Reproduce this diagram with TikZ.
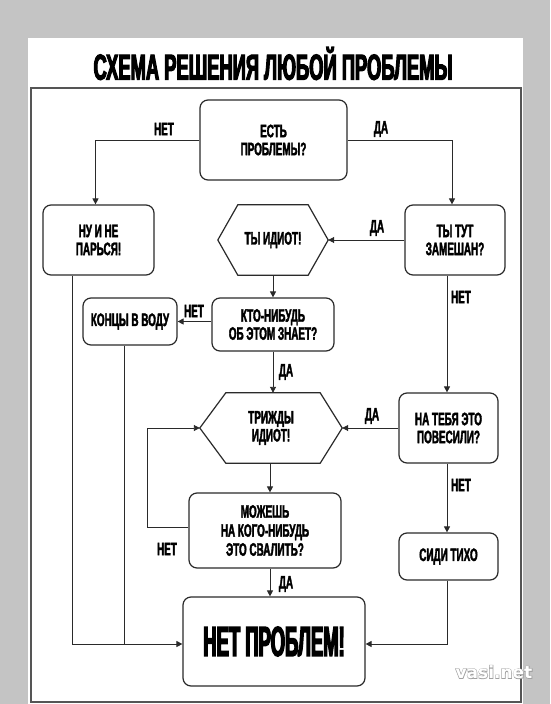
\documentclass[tikz,border=0pt]{standalone}
\usepackage{fontspec}
\usetikzlibrary{arrows.meta,calc}
\newfontfamily\nfam{Liberation Sans Bold}[FakeStretch=0.55, FakeBold=2]
\newfontfamily\tfam{Liberation Sans Bold}[FakeStretch=0.51, FakeBold=3]
\newfontfamily\bfam{Liberation Sans Bold}[FakeStretch=0.44, FakeBold=3]
\newfontfamily\wmfam{DejaVu Sans Bold}
\newfontfamily\wmhalo{DejaVu Sans Bold}[FakeBold=7]
\definecolor{bggray}{HTML}{C4C4C4}
\definecolor{ink}{HTML}{2A2A2A}
\definecolor{wmgray}{HTML}{A0A0A0}
\newcommand{\nodetext}{\nfam\fontsize{18}{18}\selectfont}
\tikzset{
  box/.style={draw=ink, line width=1.2pt, rounded corners=8pt, inner sep=0pt,
    align=center, font=\nodetext, text=black},
  hexbox/.style={inner sep=0pt, align=center, font=\nodetext, text=black},
  hexline/.style={draw=ink, line width=1.2pt},
  conn/.style={draw=ink, line width=0.9pt},
  arr/.style={conn, -{Triangle[length=6pt,width=6pt]}},
  lab/.style={font=\nodetext, inner sep=0pt, text=black}
}
\begin{document}
\begin{tikzpicture}[x=1pt,y=-1pt]
\useasboundingbox (0,0) rectangle (550,704);
\fill[bggray] (0,0) rectangle (550,704);
\fill[white] (28,38) rectangle (523,704);
\draw[draw=ink!80, line width=1.2pt] (31,88) rectangle (521,702);

\node[font={\tfam\fontsize{36}{38}\selectfont}, inner sep=0pt] (title) at (273,63.5) {СХЕМА РЕШЕНИЯ ЛЮБОЙ ПРОБЛЕМЫ};

% nodes
\node[box, minimum width=147pt, minimum height=80pt] (est) at (273.5,140) {ЕСТЬ\\ПРОБЛЕМЫ?};
\node[box, minimum width=111pt, minimum height=70pt] (nu) at (98.5,240) {НУ И НЕ\\ПАРЬСЯ!};
\node[hexbox, minimum width=110pt, minimum height=70pt] (idiot) at (273,240) {ТЫ ИДИОТ!};
\node[box, minimum width=100pt, minimum height=70pt] (zam) at (455,240) {ТЫ ТУТ\\ЗАМЕШАН?};
\node[box, minimum width=122pt, minimum height=53pt] (kto) at (273,324.5) {КТО-НИБУДЬ\\ОБ ЭТОМ ЗНАЕТ?};
\node[box, minimum width=94pt, minimum height=47pt] (konc) at (130,321.5) {КОНЦЫ В ВОДУ};
\node[hexbox, minimum width=142pt, minimum height=70pt] (trizh) at (271,428) {ТРИЖДЫ\\ИДИОТ!};
\node[box, minimum width=99pt, minimum height=70pt] (pov) at (448.5,428) {НА ТЕБЯ ЭТО\\ПОВЕСИЛИ?};
\node[box, minimum width=152pt, minimum height=75pt, font={\nfam\fontsize{18}{19}\selectfont}] (mozh) at (265,530.5) {МОЖЕШЬ\\НА КОГО-НИБУДЬ\\ЭТО СВАЛИТЬ?};
\node[box, minimum width=182pt, minimum height=89pt, font={\bfam\fontsize{42}{44}\selectfont}] (netprob) at (274,641.5) {НЕТ ПРОБЛЕМ!};
\node[box, minimum width=99pt, minimum height=47pt] (sidi) at (448.5,556.5) {СИДИ ТИХО};

% hexagon outlines
\draw[hexline] (idiot.west) -- ([xshift=20pt]idiot.north west) -- ([xshift=-20pt]idiot.north east)
  -- (idiot.east) -- ([xshift=-20pt]idiot.south east) -- ([xshift=20pt]idiot.south west) -- cycle;
\draw[hexline] (trizh.west) -- ([xshift=26pt]trizh.north west) -- ([xshift=-22pt]trizh.north east)
  -- (trizh.east) -- ([xshift=-22pt]trizh.south east) -- ([xshift=26pt]trizh.south west) -- cycle;

% helper coordinates
\coordinate (leftx) at (72,0);
\coordinate (koncx) at (124,0);
\coordinate (loopx) at (147,0);
\coordinate (midx) at (270,0);
\coordinate (rightx) at (447,0);

% connectors
\draw[arr] (est.west) -| ([xshift=-3pt]nu.north);
\draw[arr] (est.east) -| ([xshift=-3pt]zam.north);
\draw[arr] (zam.west) -- (idiot.east);
\draw[arr] (idiot.south) -- (kto.north);
\draw[arr] (kto.west |- konc.east) -- (konc.east);
\draw[arr] (kto.south) -- (kto.south |- trizh.north);
\draw[arr] (zam.south -| rightx) -- (pov.north -| rightx);
\draw[arr] (pov.west) -- (trizh.east);
\draw[arr] (trizh.south -| midx) -- (mozh.north -| midx);
\draw[arr] ([yshift=3pt]mozh.west) -- ([yshift=3pt]mozh.west -| loopx) |- (trizh.west);
\draw[arr] (mozh.south -| midx) -- (netprob.north -| midx);
\draw[arr] (pov.south -| rightx) -- (sidi.north -| rightx);
\draw[arr] (sidi.south -| rightx) |- ([yshift=-2.5pt]netprob.east);
\draw[arr] (nu.south -| leftx) |- ([yshift=-2.5pt]netprob.west);
\draw[conn] (konc.south -| koncx) -- ([yshift=-2.5pt]netprob.west -| koncx);

% labels
\node[lab] (l1) at (164,129) {НЕТ};
\node[lab] (l2) at (381,129) {ДА};
\node[lab] (l3) at (377,228) {ДА};
\node[lab] (l4) at (461,297) {НЕТ};
\node[lab] (l5) at (194,311) {НЕТ};
\node[lab] (l6) at (286,372) {ДА};
\node[lab] (l7) at (372,416) {ДА};
\node[lab] (l8) at (167,549) {НЕТ};
\node[lab] (l9) at (286,584) {ДА};
\node[lab] (l10) at (461,485) {НЕТ};

% watermark
\node[font={\wmhalo\fontsize{17}{18}\selectfont}, text=wmgray, inner sep=0pt] (wmhalo) at (494,672) {vasi.net};
\node[font={\wmfam\fontsize{17}{18}\selectfont}, text=white, inner sep=0pt] (wmtop) at (494,672) {vasi.net};
\end{tikzpicture}
\end{document}
